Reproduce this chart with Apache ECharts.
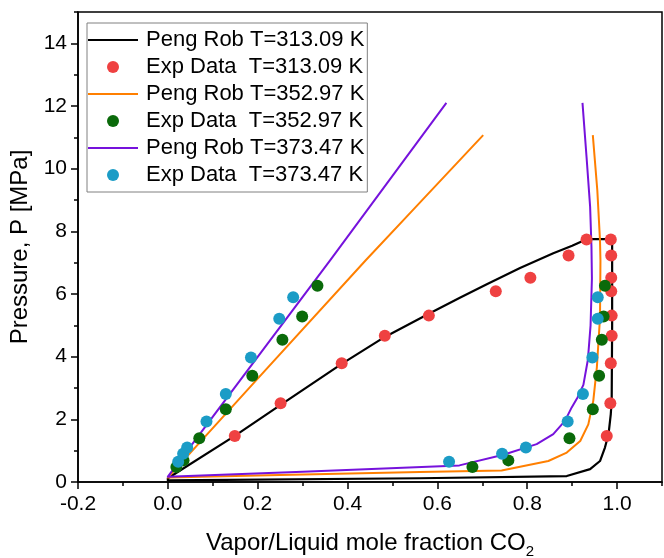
<!DOCTYPE html>
<html><head><meta charset="utf-8">
<script src="https://cdn.jsdelivr.net/npm/echarts@6/dist/echarts.min.js"></script>
<style>html,body{margin:0;padding:0;background:#fff}#c{width:664px;height:558px}</style>
</head><body><div id="c"></div>
<script>
// ---- tick labels ----
const xTicks = [-0.2, 0.0, 0.2, 0.4, 0.6, 0.8, 1.0];
const yTicks = [0, 2, 4, 6, 8, 10, 12, 14];

// ---- legend names ----
const names = [
  'Peng Rob T=313.09 K',
  'Exp Data  T=313.09 K',
  'Peng Rob T=352.97 K',
  'Exp Data  T=352.97 K',
  'Peng Rob T=373.47 K',
  'Exp Data  T=373.47 K'
];

// ---- experimental data (pressure, liquid x, vapor y) ----
const exp313P   = [1.47, 2.51, 3.79, 4.67, 5.31, 6.09, 6.52, 7.23, 7.74];
const exp313Liq = [0.149, 0.251, 0.387, 0.483, 0.581, 0.730, 0.807, 0.892, 0.932];
const exp313Vap = [0.977, 0.985, 0.986, 0.988, 0.988, 0.987, 0.987, 0.987, 0.986];

const exp352P   = [0.48, 0.69, 1.40, 2.32, 3.39, 4.54, 5.28, 6.26];
const exp352Liq = [0.019, 0.035, 0.070, 0.129, 0.188, 0.255, 0.299, 0.333];
const exp352Vap = [0.678, 0.758, 0.894, 0.946, 0.960, 0.966, 0.970, 0.973];

const exp373P   = [0.65, 0.90, 1.10, 1.93, 2.81, 3.97, 5.21, 5.90];
const exp373Liq = [0.023, 0.034, 0.043, 0.086, 0.129, 0.185, 0.248, 0.279];
const exp373Vap = [0.626, 0.744, 0.797, 0.890, 0.924, 0.945, 0.957, 0.957];

// ---- Peng-Robinson envelopes (mole fraction, pressure) ----
const pr313X = [0.989, 0.932, 0.900, 0.858, 0.784, 0.710, 0.650, 0.582, 0.483, 0.387, 0.251, 0.149, 0.000, 0.000, 0.560, 0.888, 0.940, 0.962, 0.973, 0.981, 0.986, 0.988, 0.989, 0.989];
const pr313P = [7.75, 7.75, 7.54, 7.30, 6.83, 6.31, 5.88, 5.38, 4.63, 3.77, 2.46, 1.47, 0.12, 0.05, 0.12, 0.19, 0.41, 0.67, 1.10, 1.53, 2.17, 2.60, 5.00, 7.75];

const pr352X = [0.702, 0.550, 0.440, 0.200, 0.000, 0.249, 0.561, 0.743, 0.847, 0.888, 0.918, 0.936, 0.947, 0.955, 0.962, 0.963, 0.962, 0.956, 0.946];
const pr352P = [11.07, 8.75, 7.07, 3.30, 0.14, 0.22, 0.32, 0.37, 0.67, 0.94, 1.31, 1.84, 2.59, 3.66, 5.25, 7.07, 7.71, 9.31, 11.07];

const pr373X = [0.620, 0.362, 0.000, 0.300, 0.649, 0.747, 0.821, 0.858, 0.884, 0.899, 0.912, 0.925, 0.935, 0.941, 0.944, 0.943, 0.940, 0.932, 0.923];
const pr373P = [12.10, 7.09, 0.17, 0.33, 0.53, 0.87, 1.21, 1.53, 1.95, 2.38, 2.70, 3.10, 3.90, 5.00, 6.50, 7.50, 8.78, 10.38, 12.10];

const FONT = '"Liberation Sans", Arial, sans-serif';
const LINE_ICON = 'path://M0,0 L50,0 L50,2.2 L0,2.2 Z';
const zip = (xs, ys) => xs.map((x, i) => [x, ys[i]]);
const expPts = (liq, vap, p) => zip(liq, p).concat(zip(vap, p));

function lineSeries(name, xs, ys, color, w) {
  return { name, type: 'line', data: zip(xs, ys), symbol: 'none', showSymbol: false, z: 2,
    lineStyle: { color, width: w, join: 'round' }, itemStyle: { color }, animation: false };
}
function scatterSeries(name, pts, color, z) {
  return { name, type: 'scatter', data: pts, symbol: 'circle', symbolSize: 12, z,
    itemStyle: { color, opacity: 1 }, animation: false };
}

const chart = echarts.init(document.getElementById('c'), null, { renderer: 'canvas' });
const xMin = -0.2, xMax = 1.1, yMin = 0, yMax = 15;
chart.setOption({
  backgroundColor: '#fff',
  animation: false,
  grid: { left: 78, right: 2, top: 12, bottom: 76, show: true, borderColor: '#000', borderWidth: 1.5,
    containLabel: false, outerBoundsMode: 'none' },
  legend: {
    orient: 'vertical', left: 87, top: 23, padding: [6, 3, 6, 1], itemGap: 5,
    itemWidth: 50, itemHeight: 12, borderColor: '#808080', borderWidth: 1,
    backgroundColor: '#fff', symbolKeepAspect: true,
    textStyle: { fontSize: 22, fontFamily: FONT, color: '#000', padding: [0, 0, 0, 3] },
    data: names.map((n, i) => i % 2 === 0 ? { name: n, icon: LINE_ICON } : { name: n, icon: 'circle' })
  },
  xAxis: [{
    type: 'value', min: xMin, max: xMax, interval: 0.2,
    axisLine: { show: true, onZero: false, lineStyle: { color: '#000', width: 1.6 } },
    axisTick: { show: true, inside: false, length: 7, lineStyle: { color: '#000', width: 1.5 } },
    axisLabel: { fontSize: 21, fontFamily: FONT, color: '#000', margin: 12, showMaxLabel: false,
      formatter: v => { const t = xTicks.find(k => Math.abs(k - v) < 1e-6); return t === undefined ? '' : t.toFixed(1); } },
    splitLine: { show: false },
    name: 'Vapor/Liquid mole fraction CO{sub|2}', nameLocation: 'middle', nameGap: 45,
    nameTextStyle: { fontSize: 24, fontFamily: FONT, color: '#000',
      rich: { sub: { fontSize: 15, fontFamily: FONT, color: '#000', verticalAlign: 'bottom', lineHeight: 32 } } }
  }, {
    type: 'value', min: xMin, max: xMax, interval: 0.1, position: 'bottom',
    axisLine: { show: false, onZero: false }, axisLabel: { show: false }, splitLine: { show: false },
    axisTick: { show: true, length: 4, lineStyle: { color: '#000', width: 1.5 } }
  }],
  yAxis: [{
    type: 'value', min: yMin, max: yMax, interval: 2,
    axisLine: { show: true, onZero: false, lineStyle: { color: '#000', width: 1.6 } },
    axisTick: { show: true, inside: false, length: 7, lineStyle: { color: '#000', width: 1.5 } },
    axisLabel: { fontSize: 21, fontFamily: FONT, color: '#000', margin: 11, showMaxLabel: false,
      formatter: v => { const t = yTicks.find(k => Math.abs(k - v) < 1e-6); return t === undefined ? '' : String(t); } },
    splitLine: { show: false },
    name: 'Pressure, P [MPa]', nameLocation: 'middle', nameGap: 41,
    nameTextStyle: { fontSize: 24, fontFamily: FONT, color: '#000' }
  }, {
    type: 'value', min: yMin, max: yMax, interval: 1, position: 'left',
    axisLine: { show: false, onZero: false }, axisLabel: { show: false }, splitLine: { show: false },
    axisTick: { show: true, length: 4, lineStyle: { color: '#000', width: 1.5 } }
  }],
  series: [
    lineSeries(names[0], pr313X, pr313P, '#000000', 2.2),
    scatterSeries(names[1], expPts(exp313Liq, exp313Vap, exp313P), '#ef4141', 5),
    lineSeries(names[2], pr352X, pr352P, '#ff7f00', 2),
    scatterSeries(names[3], expPts(exp352Liq, exp352Vap, exp352P), '#0a6a0a', 6),
    lineSeries(names[4], pr373X, pr373P, '#7612dc', 2),
    scatterSeries(names[5], expPts(exp373Liq, exp373Vap, exp373P), '#1b9cc6', 7)
  ]
});
</script></body></html>
